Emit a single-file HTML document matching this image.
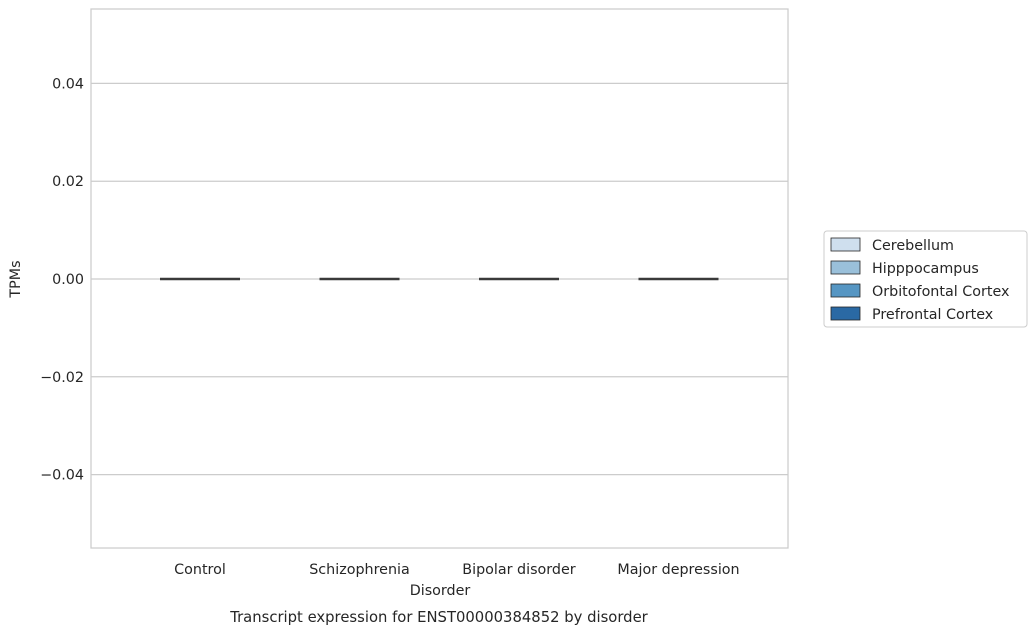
<!DOCTYPE html>
<html><head><meta charset="utf-8"><style>
body{margin:0;background:#fff;font-family:"DejaVu Sans","Liberation Sans",sans-serif;}
</style></head><body>
<svg id="chart" width="1036" height="634" xmlns="http://www.w3.org/2000/svg" font-family="DejaVu Sans, Liberation Sans, sans-serif" fill="#262626">
<rect x="91" y="9" width="697" height="539" fill="#fff" stroke="#cccccc" stroke-width="1.25"/>
<g id="grid"></g>
<g id="yticks" font-size="14.3" text-anchor="end"></g>
<g id="xticks" font-size="14.3" text-anchor="middle"></g>
<g id="boxes"></g>
<text transform="translate(20,279) rotate(-90)" font-size="14.3" text-anchor="middle">TPMs</text>
<text x="440" y="595" font-size="14.3" text-anchor="middle">Disorder</text>
<text x="439" y="622" font-size="14.8" text-anchor="middle">Transcript expression for ENST00000384852 by disorder</text>
<g>
<rect x="824" y="231" width="203" height="96" rx="3" fill="#fff" stroke="#cccccc"/>
<g id="legend-items" font-size="14.3"></g>
</g>
</svg>
<script>
const categories=["Control","Schizophrenia","Bipolar disorder","Major depression"];
const tissues=["Cerebellum","Hipppocampus","Orbitofontal Cortex","Prefrontal Cortex"];
const colors=["#cfdfee","#9ac0da","#5696c3","#2a69a4"];
const medians=[[0,0,0,0],[0,0,0,0],[0,0,0,0],[0,0,0,0]];
const yTicks=[0.04,0.02,0,-0.02,-0.04];
const yTickLabels=["0.04","0.02","0.00","\u22120.02","\u22120.04"];
const NS="http://www.w3.org/2000/svg";
const y=v=>279-v*4890;
const x=i=>200+i*159.5;
function mk(t,a,p){const e=document.createElementNS(NS,t);for(const k in a)e.setAttribute(k,a[k]);p.appendChild(e);return e;}
yTicks.forEach((v,i)=>{
 const l=mk('line',{x1:91,x2:788,y1:y(v),y2:y(v),stroke:'#cccccc','stroke-width':1.25},document.getElementById('grid'));
 
 
 const t=mk('text',{x:84,y:y(v)+5},document.getElementById('yticks'));
 t.textContent=yTickLabels[i];
 
 
});
categories.forEach((c,i)=>{
 const t=mk('text',{x:x(i),y:574},document.getElementById('xticks'));
 t.textContent=c;
 
 
 tissues.forEach((s,j)=>{
  const x0=x(i)-40+j*20;
  const l=mk('line',{x1:x0,x2:x0+20,y1:y(medians[i][j]),y2:y(medians[i][j]),stroke:'#3a3a3a','stroke-width':2.5},document.getElementById('boxes'));
  
  
 });
});
tissues.forEach((s,j)=>{
 const g=document.getElementById('legend-items');
 const r=mk('rect',{x:831,y:238+j*23,width:29,height:13,fill:colors[j],stroke:'#262626','stroke-width':0.8},g);
 
 
 const t=mk('text',{x:872,y:250+j*23},g);
 t.textContent=s;
 
 
});
</script>
</body></html>
